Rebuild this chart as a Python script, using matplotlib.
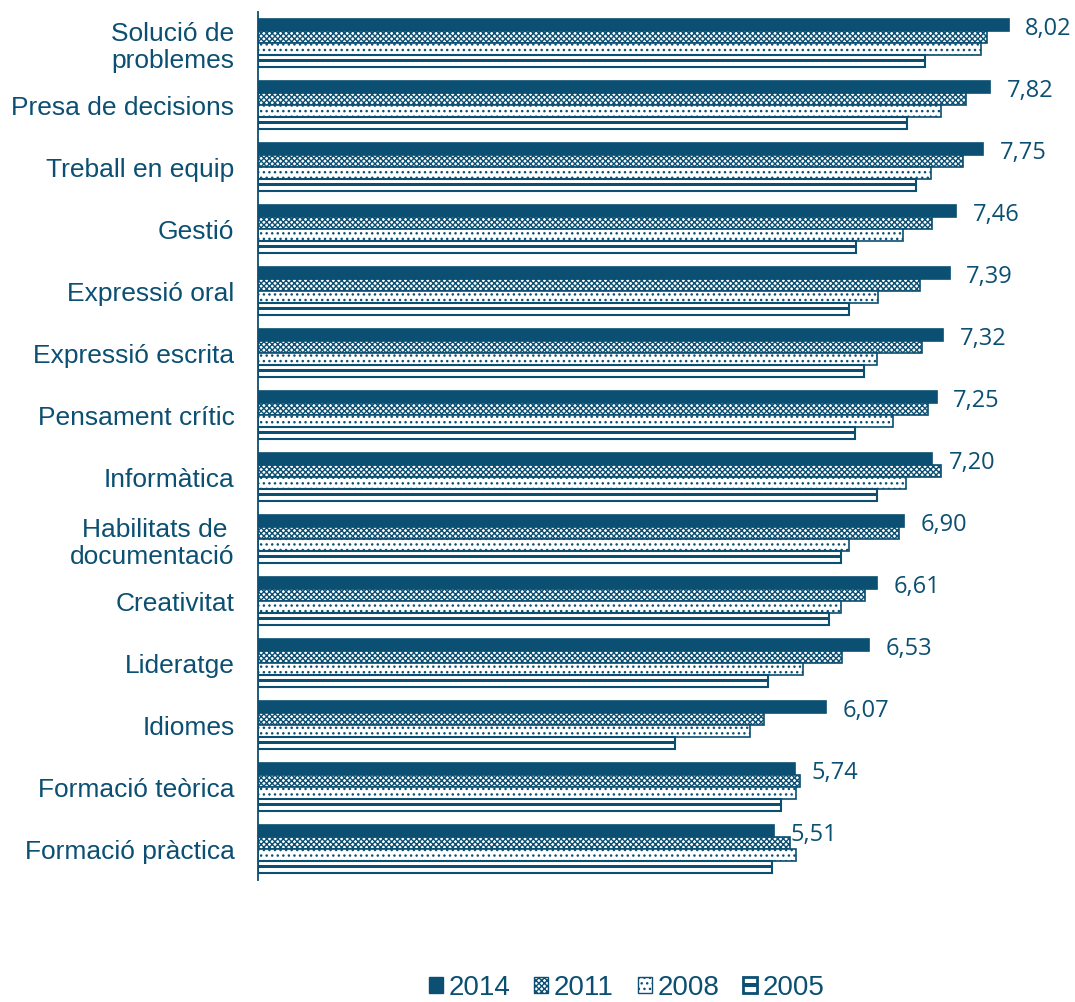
import matplotlib
matplotlib.use("Agg")
import matplotlib.pyplot as plt
from matplotlib.patches import Patch, Rectangle
from matplotlib.legend_handler import HandlerPatch
import numpy as np

categories = ["Solució de\nproblemes", "Presa de decisions", "Treball en equip", "Gestió",
              "Expressió oral", "Expressió escrita", "Pensament crític", "Informàtica",
              "Habilitats de \ndocumentació", "Creativitat", "Lideratge", "Idiomes",
              "Formació teòrica", "Formació pràctica"]
v2014 = [8.02, 7.82, 7.75, 7.46, 7.39, 7.32, 7.25, 7.20, 6.90, 6.61, 6.53, 6.07, 5.74, 5.51]
v2011 = [7.79, 7.56, 7.53, 7.20, 7.07, 7.09, 7.16, 7.30, 6.85, 6.49, 6.24, 5.41, 5.79, 5.68]
v2008 = [7.72, 7.30, 7.19, 6.89, 6.62, 6.61, 6.78, 6.92, 6.31, 6.23, 5.82, 5.26, 5.75, 5.75]
v2005 = [7.13, 6.93, 7.03, 6.39, 6.31, 6.47, 6.38, 6.61, 6.23, 6.10, 5.45, 4.46, 5.59, 5.49]
years = ["2014", "2011", "2008", "2005"]
value_labels = ["8,02", "7,82", "7,75", "7,46", "7,39", "7,32", "7,25", "7,20",
                "6,90", "6,61", "6,53", "6,07", "5,74", "5,51"]

C = "#0B4F72"
plt.rcParams['hatch.linewidth'] = 1.0

fig = plt.figure(figsize=(10.75, 10.02), dpi=100)
ax = fig.add_axes([258/1075, 1-880/1002, 802/1075, 868/1002])

y = np.arange(len(categories))
h = 0.19
offs = [-1.5*h, -0.5*h, 0.5*h, 1.5*h]

ax.barh(y + offs[0], v2014, height=h, color=C, edgecolor=C, linewidth=1.2)
ax.barh(y + offs[1], v2011, height=h, color="white", edgecolor=C, hatch="xxxxxx", linewidth=1.2)
ax.barh(y + offs[2], v2008, height=h, color="white", edgecolor=C, hatch="...", linewidth=1.2)
ax.barh(y + offs[3], v2005, height=h, color="white", edgecolor=C, linewidth=1.5)
ax.barh(y + offs[3], v2005, height=h*0.22, color=C, edgecolor=C, linewidth=0)

for yi, v, lab in zip(y, v2014, value_labels):
    ax.annotate(lab, xy=(v, yi + offs[0]), xytext=(12, -3), textcoords="offset points",
                ha="left", va="center", fontsize=17, color=C, family="Open Sans")

ax.set_xlim(0, 802/93.6)
ax.set_ylim(len(categories) - 0.5, -0.5)
ax.set_yticks(y)
ax.set_yticklabels(categories, fontsize=19, color=C, family="Liberation Sans",
                   linespacing=1.2)
ax.tick_params(axis="y", length=0, pad=17)
ax.set_xticks([])
for s in ["top", "right", "bottom"]:
    ax.spines[s].set_visible(False)
ax.spines["left"].set_color(C)
ax.spines["left"].set_linewidth(1.3)


class StripeHandler(HandlerPatch):
    def create_artists(self, legend, orig_handle, xdescent, ydescent, width, height,
                       fontsize, trans):
        r = Rectangle((-xdescent, -ydescent), width, height, facecolor="white",
                      edgecolor=C, linewidth=2, transform=trans)
        s = Rectangle((-xdescent, -ydescent + height * 0.38), width, height * 0.24,
                      facecolor=C, edgecolor=C, linewidth=0, transform=trans)
        return [r, s]


h05 = Patch(facecolor="white", edgecolor=C)
handles = [Patch(facecolor=C, edgecolor=C),
           Patch(facecolor="white", edgecolor=C, hatch="xxxxxx"),
           Patch(facecolor="white", edgecolor=C, hatch="..."),
           h05]
leg = fig.legend(handles, years, loc="lower center", bbox_to_anchor=(0.583, -0.024), ncol=4,
                 frameon=False, handlelength=0.52, handleheight=0.52, handletextpad=0.2,
                 columnspacing=0.85, prop={"family": "Liberation Sans", "size": 20},
                 handler_map={h05: StripeHandler()})
for t in leg.get_texts():
    t.set_color(C)

fig.savefig("out.png", dpi=100)
